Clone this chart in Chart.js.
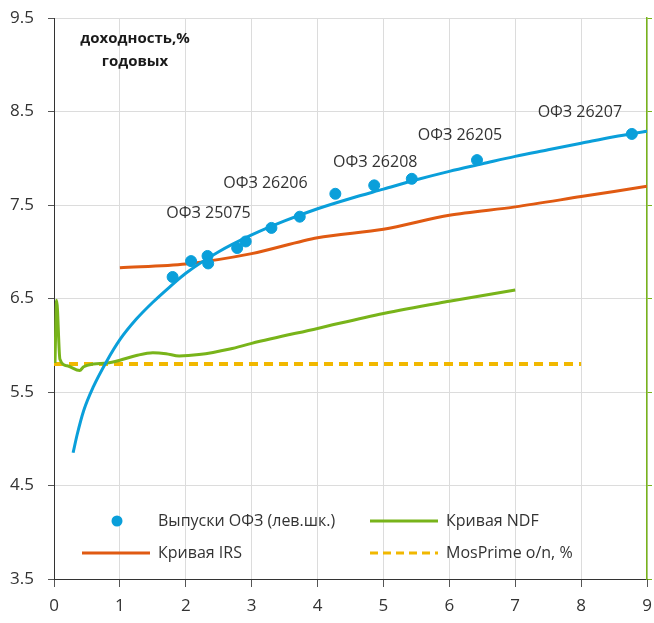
<html lang="ru">
<head>
    <meta charset="UTF-8">
    <title>Кривая доходности ОФЗ</title>
    <script src="https://cdn.jsdelivr.net/npm/chart.js@4.4.0/dist/chart.umd.min.js"></script>
    <style>
        body { margin: 0; background: #fff; }
        #wrap { width: 654px; height: 623px; position: relative; }
    </style>
</head>
<body>
<div id="wrap"><canvas id="chart"></canvas></div>
<script>
// --- data ---
const ofzX = [1.80, 2.08, 2.33, 2.34, 2.78, 2.91, 3.30, 3.73, 4.27, 4.86, 5.43, 6.42, 8.77];
const ofzY = [6.73, 6.90, 6.955, 6.875, 7.04, 7.11, 7.255, 7.375, 7.62, 7.71, 7.78, 7.98, 8.26];

// fitted OFZ curve
const fitX = [0.29, 0.35, 0.45, 0.6, 0.8, 1.0, 1.25, 1.5, 1.75, 2.0, 2.5, 3.0, 3.5, 4.0, 4.5, 5.0, 5.5, 6.0, 6.5, 7.0, 7.5, 8.0, 8.5, 9.0];
const fitY = [4.85, 5.04, 5.30, 5.56, 5.83, 6.06, 6.28, 6.46, 6.62, 6.77, 7.00, 7.18, 7.33, 7.46, 7.57, 7.67, 7.77, 7.86, 7.94, 8.02, 8.09, 8.16, 8.23, 8.29];

const irsX = [1, 2, 3, 4, 5, 6, 7, 8, 9];
const irsY = [6.83, 6.87, 6.98, 7.15, 7.24, 7.39, 7.48, 7.59, 7.70];

const ndfX = [0.015, 0.04, 0.09, 0.2, 0.39, 0.45, 0.6, 0.8, 1.0, 1.25, 1.5, 1.7, 1.9, 2.2, 2.67, 3, 4, 5, 6, 7];
const ndfY = [5.81, 6.48, 5.85, 5.78, 5.73, 5.77, 5.80, 5.81, 5.84, 5.89, 5.92, 5.91, 5.885, 5.90, 5.96, 6.02, 6.18, 6.34, 6.47, 6.59];

const mosX = [0, 8];
const mosY = [5.8, 5.8];

const xTicks = [0, 1, 2, 3, 4, 5, 6, 7, 8, 9];
const yTicks = [3.5, 4.5, 5.5, 6.5, 7.5, 8.5, 9.5];

// labelled issues: index into ofz arrays, text, pixel offset of text centre
const issueLabels = [
    { i: 2, text: 'ОФЗ 25075', dx: 1, dy: -43 },
    { i: 6, text: 'ОФЗ 26206', dx: -6, dy: -44 },
    { i: 9, text: 'ОФЗ 26208', dx: 1, dy: -23 },
    { i: 11, text: 'ОФЗ 26205', dx: -17, dy: -25 },
    { i: 12, text: 'ОФЗ 26207', dx: -52, dy: -22 }
];

const BLUE = '#0a9fda';
const ORANGE = '#e05a12';
const GREEN = '#78b41a';
const YELLOW = '#f1b800';
const FONT = '"Open Sans", "Noto Sans", sans-serif';

function pts(xs, ys) {
    return xs.map((x, k) => ({ x: x, y: ys[k] }));
}

const labelsPlugin = {
    id: 'labels',
    afterDatasetsDraw(chart) {
        const ctx = chart.ctx;
        const xs = chart.scales.x, ys = chart.scales.y;
        const area = chart.chartArea;
        ctx.save();
        ctx.fillStyle = '#333';
        ctx.textAlign = 'center';
        ctx.textBaseline = 'middle';
        ctx.font = '16px ' + FONT;
        issueLabels.forEach(l => {
            const px = xs.getPixelForValue(ofzX[l.i]);
            const py = ys.getPixelForValue(ofzY[l.i]);
            ctx.fillText(l.text, px + l.dx, py + l.dy);
        });

        // axis caption
        ctx.font = 'bold 15px ' + FONT;
        ctx.fillStyle = '#1a1a1a';
        ctx.fillText('доходность,%', area.left + 81, area.top + 21);
        ctx.fillText('годовых', area.left + 81, area.top + 44);

        // legend inside the plot
        ctx.font = '16px ' + FONT;
        ctx.textAlign = 'left';
        const r1 = area.top + 503, r2 = area.top + 535;
        ctx.beginPath();
        ctx.fillStyle = BLUE;
        ctx.arc(area.left + 63, r1, 5.5, 0, Math.PI * 2);
        ctx.fill();
        ctx.lineWidth = 3;
        ctx.strokeStyle = GREEN;
        ctx.beginPath(); ctx.moveTo(area.left + 316, r1); ctx.lineTo(area.left + 384, r1); ctx.stroke();
        ctx.strokeStyle = ORANGE;
        ctx.beginPath(); ctx.moveTo(area.left + 28, r2); ctx.lineTo(area.left + 96, r2); ctx.stroke();
        ctx.strokeStyle = YELLOW;
        ctx.setLineDash([8, 5]);
        ctx.beginPath(); ctx.moveTo(area.left + 316, r2); ctx.lineTo(area.left + 384, r2); ctx.stroke();
        ctx.setLineDash([]);
        ctx.fillStyle = '#333';
        ctx.fillText(chart.data.datasets[0].label, area.left + 104, r1);
        ctx.fillText(chart.data.datasets[3].label, area.left + 392, r1);
        ctx.fillText(chart.data.datasets[2].label, area.left + 104, r2);
        ctx.fillText(chart.data.datasets[4].label, area.left + 392, r2);
        ctx.restore();
    }
};

new Chart(document.getElementById('chart'), {
    type: 'scatter',
    data: {
        datasets: [
            {
                label: 'Выпуски ОФЗ (лев.шк.)',
                data: pts(ofzX, ofzY),
                backgroundColor: BLUE,
                borderColor: BLUE,
                pointRadius: 5.5,
                showLine: false,
                order: 0
            },
            {
                label: 'fit',
                data: pts(fitX, fitY),
                borderColor: BLUE,
                borderWidth: 3,
                pointRadius: 0,
                showLine: true,
                cubicInterpolationMode: 'monotone',
                order: 1
            },
            {
                label: 'Кривая IRS',
                data: pts(irsX, irsY),
                borderColor: ORANGE,
                borderWidth: 3,
                pointRadius: 0,
                showLine: true,
                tension: 0.3,
                order: 2
            },
            {
                label: 'Кривая NDF',
                data: pts(ndfX, ndfY),
                borderColor: GREEN,
                borderWidth: 3,
                pointRadius: 0,
                showLine: true,
                cubicInterpolationMode: 'monotone',
                order: 3
            },
            {
                label: 'MosPrime o/n, %',
                data: pts(mosX, mosY),
                borderColor: YELLOW,
                borderWidth: 4,
                borderDash: [9, 6],
                pointRadius: 0,
                showLine: true,
                order: 4
            }
        ]
    },
    options: {
        responsive: true,
        maintainAspectRatio: false,
        animation: false,
        layout: { padding: { top: 18, right: 0, left: 0, bottom: 0 } },
        plugins: {
            legend: { display: false },
            tooltip: { enabled: false }
        },
        scales: {
            x: {
                type: 'linear',
                min: 0,
                max: 9,
                afterBuildTicks: s => { s.ticks = xTicks.map(v => ({ value: v })); },
                afterFit: s => { s.height = 44; s.paddingLeft = 0; s.paddingRight = 0; },
                grid: { color: '#dcdcdc', tickColor: '#555', tickLength: 8 },
                border: { color: '#333', width: 1 },
                ticks: { color: '#333', font: { family: FONT, size: 17 }, padding: 9 }
            },
            y: {
                min: 3.5,
                max: 9.5,
                afterBuildTicks: s => { s.ticks = yTicks.map(v => ({ value: v })); },
                afterFit: s => { s.width = 54; s.paddingTop = 0; s.paddingBottom = 0; },
                grid: { color: '#dcdcdc', tickColor: '#555', tickLength: 6 },
                border: { color: '#333', width: 1 },
                ticks: {
                    color: '#333',
                    font: { family: FONT, size: 17 },
                    padding: 14,
                    callback: v => v.toFixed(1)
                }
            },
            y2: {
                position: 'right',
                min: 3.5,
                max: 9.5,
                afterBuildTicks: s => { s.ticks = yTicks.map(v => ({ value: v })); },
                afterFit: s => { s.width = 7; },
                grid: { drawOnChartArea: false, tickColor: GREEN, tickLength: 5 },
                border: { color: GREEN, width: 1.5 },
                ticks: { display: false }
            }
        }
    },
    plugins: [labelsPlugin]
});
</script>
</body>
</html>
